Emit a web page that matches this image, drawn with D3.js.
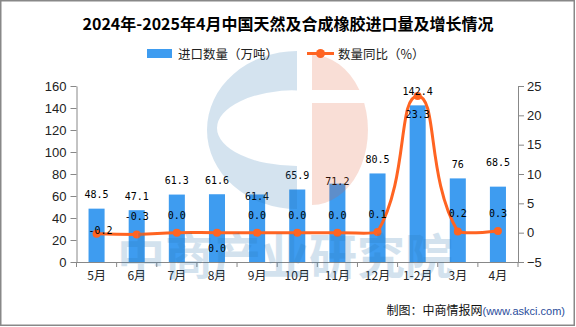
<!DOCTYPE html>
<html>
<head>
<meta charset="utf-8">
<script src="https://cdn.jsdelivr.net/npm/d3@7"></script>
<style>
    body { margin: 0; background: #fff; }
    svg { display: block; }
    .axis text { font-family: "Liberation Sans", Arial, sans-serif; font-size: 13px; fill: #222; }
    .axis path, .axis line { stroke: #888; }
</style>
</head>
<body>
<div id="chart"></div>
<script>
// chart data
const months = ["5月", "6月", "7月", "8月", "9月", "10月", "11月", "12月", "1-2月", "3月", "4月"];
const imports = [48.5, 47.1, 61.3, 61.6, 61.4, 65.9, 71.2, 80.5, 142.4, 76, 68.5];
const yoy = [-0.2, -0.3, 0.0, 0.0, 0.0, 0.0, 0.0, 0.1, 23.3, 0.2, 0.3];
const leftTicks = [0, 20, 40, 60, 80, 100, 120, 140, 160];
const rightTicks = [-5, 0, 5, 10, 15, 20, 25];

// label nudges (px, vertical), to mimic the label layout of the original
const barLabelNudge = [0, 0, 0, 0, 16, 0, 12, 0, 0, 0, -10];
const lineLabelNudge = [14, 0, 0, 33, 0, 0, 0, 0, 36, 0, 0];

const W = 576, H = 327;
const margin = { top: 86, right: 58, bottom: 65, left: 76.5 };
const barColor = "#3e9cf0", lineColor = "#ff6422";

const svg = d3.select("#chart").append("svg")
    .attr("width", W)
    .attr("height", H);

const x = d3.scaleBand()
    .domain(months)
    .range([margin.left, W - margin.right])
    .paddingInner(0.6)
    .paddingOuter(0.3);

const yL = d3.scaleLinear().domain([0, 160]).range([H - margin.bottom, margin.top]);
const yR = d3.scaleLinear().domain([-5, 25]).range([H - margin.bottom, margin.top]);

// title
svg.append("text")
    .attr("x", 288)
    .attr("y", 30)
    .attr("text-anchor", "middle")
    .style("font-family", "'Noto Sans CJK SC', sans-serif")
    .style("font-weight", "bold")
    .style("font-size", "16px")
    .text("2024年-2025年4月中国天然及合成橡胶进口量及增长情况");

// legend
const legend = svg.append("g").style("font-family", "'Noto Sans CJK SC', sans-serif").style("font-size", "12.5px");
legend.append("rect").attr("x", 147).attr("y", 49).attr("width", 25).attr("height", 9).attr("fill", barColor);
legend.append("text").attr("x", 178).attr("y", 58.5).attr("fill", "#222").text("进口数量（万吨）");
legend.append("line").attr("x1", 307).attr("x2", 334).attr("y1", 53.5).attr("y2", 53.5)
    .attr("stroke", lineColor).attr("stroke-width", 3);
legend.append("circle").attr("cx", 320.5).attr("cy", 53.5).attr("r", 4.5).attr("fill", lineColor);
legend.append("text").attr("x", 338).attr("y", 58.5).attr("fill", "#222").text("数量同比（%）");

// axes
const xAxisY = H - margin.bottom;
const gx = svg.append("g")
    .attr("class", "axis x-axis")
    .attr("transform", "translate(0," + xAxisY + ")")
    .call(d3.axisBottom(x).tickSize(0).tickPadding(9));
gx.selectAll("text")
    .style("font-family", "'Noto Sans CJK SC', sans-serif")
    .style("font-size", "12px");
gx.selectAll(".boundary")
    .data(d3.range(months.length + 1))
    .enter().append("line")
    .attr("class", "boundary")
    .attr("x1", i => x.range()[0] + i * x.step())
    .attr("x2", i => x.range()[0] + i * x.step())
    .attr("y1", 0)
    .attr("y2", 5)
    .attr("stroke", "#888");

svg.append("g")
    .attr("class", "axis y-axis")
    .attr("transform", "translate(" + margin.left + ",0)")
    .call(d3.axisLeft(yL).tickValues(leftTicks).tickSize(6).tickSizeOuter(0).tickPadding(4));

svg.append("g")
    .attr("class", "axis y-axis-right")
    .attr("transform", "translate(" + (W - margin.right) + ",0)")
    .call(d3.axisRight(yR).tickValues(rightTicks).tickSize(6).tickSizeOuter(0).tickPadding(3));

// bars
svg.selectAll(".bar")
    .data(imports)
    .enter().append("rect")
    .attr("class", "bar")
    .attr("x", (d, i) => x(months[i]))
    .attr("width", x.bandwidth())
    .attr("y", d => yL(d))
    .attr("height", d => yL(0) - yL(d))
    .attr("fill", barColor);

// smooth line, echarts-like bezier with bbox constraint
const pts = yoy.map((d, i) => [x(months[i]) + x.bandwidth() / 2, yR(d)]);

function smoothPath(points, smooth) {
    const xMin = d3.min(points, p => p[0]), xMax = d3.max(points, p => p[0]);
    const yMin = d3.min(points, p => p[1]), yMax = d3.max(points, p => p[1]);
    const clamp = p => [Math.max(xMin, Math.min(xMax, p[0])), Math.max(yMin, Math.min(yMax, p[1]))];
    const cps = points.map((p, i) => {
        if (i === 0 || i === points.length - 1) return { cin: p, cout: p };
        const prev = points[i - 1], next = points[i + 1];
        const vx = (next[0] - prev[0]) * smooth, vy = (next[1] - prev[1]) * smooth;
        let d0 = Math.hypot(p[0] - prev[0], p[1] - prev[1]);
        let d1 = Math.hypot(p[0] - next[0], p[1] - next[1]);
        const sum = d0 + d1;
        if (sum > 0) { d0 /= sum; d1 /= sum; }
        return {
            cin: clamp([p[0] - vx * d0, p[1] - vy * d0]),
            cout: clamp([p[0] + vx * d1, p[1] + vy * d1])
        };
    });
    const path = d3.path();
    path.moveTo(points[0][0], points[0][1]);
    for (let i = 1; i < points.length; i++) {
        const a = cps[i - 1].cout, b = cps[i].cin;
        path.bezierCurveTo(a[0], a[1], b[0], b[1], points[i][0], points[i][1]);
    }
    return path.toString();
}

svg.append("path")
    .attr("d", smoothPath(pts, 0.5))
    .attr("fill", "none")
    .attr("stroke", lineColor)
    .attr("stroke-width", 3)
    .attr("stroke-linejoin", "round");

svg.selectAll(".dot")
    .data(yoy)
    .enter().append("circle")
    .attr("class", "dot")
    .attr("cx", (d, i) => x(months[i]) + x.bandwidth() / 2)
    .attr("cy", d => yR(d))
    .attr("r", 4)
    .attr("fill", lineColor);

// value labels
const labelFont = "'DejaVu Sans Mono', 'Liberation Mono', monospace";
svg.selectAll(".bar-label")
    .data(imports)
    .enter().append("text")
    .attr("class", "bar-label")
    .attr("x", (d, i) => x(months[i]) + x.bandwidth() / 2)
    .attr("y", (d, i) => yL(d) - 10.5 + barLabelNudge[i])
    .attr("text-anchor", "middle")
    .style("font-family", labelFont)
    .style("font-size", "10px")
    .text(d => d);

svg.selectAll(".line-label")
    .data(yoy)
    .enter().append("text")
    .attr("class", "line-label")
    .attr("x", (d, i) => x(months[i]) + x.bandwidth() / 2 + (i === 0 ? 4 : 0))
    .attr("y", (d, i) => yR(d) - 14 + lineLabelNudge[i])
    .attr("text-anchor", "middle")
    .style("font-family", labelFont)
    .style("font-size", "10px")
    .text(d => d.toFixed(1));

// watermark logo and text
const wm = svg.append("g").style("pointer-events", "none");
wm.append("path")
    .attr("d", "M297,51 A90,79 0 0 0 297,209 Z M297,90 A80,38 0 0 0 297,166 Z")
    .attr("fill-rule", "evenodd")
    .attr("fill", "#2a75b0")
    .attr("opacity", 0.2);
wm.append("path")
    .attr("d", "M312,55 A56,75 0 0 1 359.4,90 L312,90 Z M312,103 L364.2,103 A56,75 0 0 1 312,205 Z")
    .attr("fill", "#e05a30")
    .attr("opacity", 0.2);
wm.append("text")
    .attr("x", 285)
    .attr("y", 274)
    .attr("text-anchor", "middle")
    .style("font-family", "'Noto Sans CJK SC', sans-serif")
    .style("font-weight", "bold")
    .style("font-size", "48px")
    .attr("fill", "#2a75b0")
    .attr("opacity", 0.2)
    .text("中商产业研究院");

// source
const src = svg.append("text")
    .attr("x", 565)
    .attr("y", 315)
    .attr("text-anchor", "end");
src.append("tspan")
    .style("font-family", "'Noto Sans CJK SC', sans-serif")
    .style("font-size", "12px")
    .attr("fill", "#111")
    .text("制图：中商情报网");
src.append("tspan")
    .style("font-family", "'Liberation Sans', Arial, sans-serif")
    .style("font-size", "11px")
    .attr("fill", "#2a4d9b")
    .text("(www.askci.com)");

// frame
svg.append("rect")
    .attr("x", 0.75).attr("y", 0.75)
    .attr("width", W - 2.5).attr("height", H - 2.5)
    .attr("fill", "none")
    .attr("stroke", "#888")
    .attr("stroke-width", 1.5);
</script>
</body>
</html>
